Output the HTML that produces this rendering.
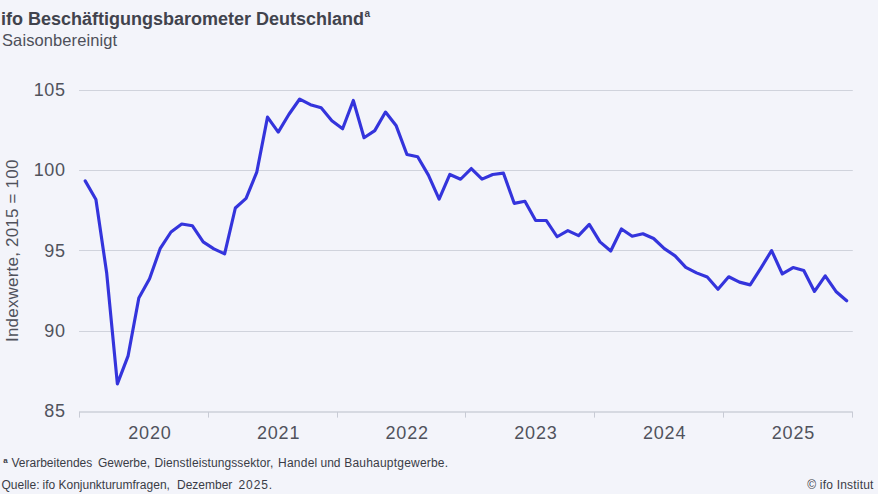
<!DOCTYPE html>
<html><head><meta charset="utf-8">
<style>
html,body{margin:0;padding:0;}
body{width:878px;height:494px;background:#f3f4fa;position:relative;overflow:hidden;font-family:"Liberation Sans",sans-serif;color:#50525c;}
.abs{position:absolute;white-space:pre;}
.title{position:absolute;left:1px;top:9px;font-size:18px;font-weight:bold;letter-spacing:0px;color:#41434d;line-height:20px;white-space:pre;}
.title sup{font-size:10px;font-weight:bold;letter-spacing:0;vertical-align:0;position:relative;top:-8px;left:0.5px}
.sub{position:absolute;left:2px;top:29.5px;font-size:16.5px;letter-spacing:0.1px;line-height:20px;color:#4d4f59;white-space:pre;}
.yl{position:absolute;left:0;width:65.5px;text-align:right;font-size:18px;line-height:22px;letter-spacing:0.6px;}
.xl{position:absolute;width:80px;text-align:center;top:422px;font-size:18px;line-height:22px;letter-spacing:0.8px;}
.ytitle{position:absolute;left:2.7px;top:342px;transform-origin:0 0;transform:rotate(-90deg);font-size:17px;letter-spacing:0.2px;line-height:20px;white-space:pre;}
.fn{position:absolute;font-size:12px;line-height:14px;color:#3a3c46;white-space:pre;}
svg{position:absolute;left:0;top:0;}
</style></head><body>
<div class="title">ifo Beschäftigungsbarometer Deutschland<sup>a</sup></div>
<div class="sub">Saisonbereinigt</div>
<svg width="878" height="494" viewBox="0 0 878 494">
<line x1="79.0" x2="852.8" y1="90.5" y2="90.5" stroke="#d0d3dc" stroke-width="1"/>
<line x1="79.0" x2="852.8" y1="170.5" y2="170.5" stroke="#d0d3dc" stroke-width="1"/>
<line x1="79.0" x2="852.8" y1="250.5" y2="250.5" stroke="#d0d3dc" stroke-width="1"/>
<line x1="79.0" x2="852.8" y1="331.5" y2="331.5" stroke="#d0d3dc" stroke-width="1"/>
<line x1="79.0" x2="852.8" y1="412.00" y2="412.00" stroke="#d6d9e1" stroke-width="2"/>
<line x1="79.50" x2="79.50" y1="412.00" y2="417.60" stroke="#c8cbd5" stroke-width="1"/>
<line x1="208.50" x2="208.50" y1="412.00" y2="417.60" stroke="#c8cbd5" stroke-width="1"/>
<line x1="337.50" x2="337.50" y1="412.00" y2="417.60" stroke="#c8cbd5" stroke-width="1"/>
<line x1="465.50" x2="465.50" y1="412.00" y2="417.60" stroke="#c8cbd5" stroke-width="1"/>
<line x1="594.50" x2="594.50" y1="412.00" y2="417.60" stroke="#c8cbd5" stroke-width="1"/>
<line x1="723.50" x2="723.50" y1="412.00" y2="417.60" stroke="#c8cbd5" stroke-width="1"/>
<line x1="852.50" x2="852.50" y1="412.00" y2="417.60" stroke="#c8cbd5" stroke-width="1"/>

<polyline points="85.20,180.88 95.92,199.50 106.65,272.69 117.38,383.91 128.10,355.82 138.82,298.05 149.55,278.79 160.28,248.29 171.00,232.00 181.72,223.97 192.45,225.82 203.18,241.87 213.90,248.93 224.62,253.83 235.35,208.00 246.07,198.37 256.80,172.05 267.52,117.16 278.25,132.09 288.98,114.27 299.70,99.03 310.43,104.64 321.15,107.85 331.88,120.69 342.60,128.72 353.32,100.47 364.05,137.71 374.77,130.64 385.50,112.03 396.22,125.83 406.95,154.56 417.67,156.80 428.40,175.10 439.12,199.02 449.85,174.46 460.57,179.25 471.30,168.52 482.02,179.11 492.75,174.46 503.47,173.18 514.20,203.33 524.92,201.26 535.65,220.50 546.38,220.52 557.10,236.75 567.83,230.64 578.55,235.63 589.27,224.35 600.00,241.87 610.73,251.02 621.45,228.95 632.18,236.25 642.90,233.77 653.62,238.52 664.35,248.65 675.08,255.83 685.80,267.39 696.52,272.85 707.25,277.02 717.98,289.22 728.70,276.74 739.43,282.11 750.15,284.88 760.88,268.03 771.60,250.54 782.33,273.97 793.05,267.55 803.77,270.44 814.50,291.46 825.23,275.90 835.95,291.46 846.68,300.77" fill="none" stroke="#3434dc" stroke-width="3.15" stroke-linejoin="round" stroke-linecap="round"/>
</svg>
<div class="yl" style="top:79.0px">105</div>
<div class="yl" style="top:159.2px">100</div>
<div class="yl" style="top:239.5px">95</div>
<div class="yl" style="top:319.8px">90</div>
<div class="yl" style="top:400.0px">85</div>

<div class="xl" style="left:109.9px">2020</div>
<div class="xl" style="left:238.6px">2021</div>
<div class="xl" style="left:367.2px">2022</div>
<div class="xl" style="left:495.9px">2023</div>
<div class="xl" style="left:624.6px">2024</div>
<div class="xl" style="left:753.4px">2025</div>

<div class="ytitle">Indexwerte, 2015 = 100</div>
<div class="fn" style="left:3.3px;top:453.5px;font-size:8px;font-weight:bold;line-height:14px">a</div>
<div class="fn" style="left:11.5px;top:456px">Verarbeitendes</div>
<div class="fn" style="left:98px;top:456px">Gewerbe,</div>
<div class="fn" style="left:154.5px;top:456px;letter-spacing:0.1px">Dienstleistungssektor,</div>
<div class="fn" style="left:278px;top:456px;letter-spacing:0.25px">Handel</div>
<div class="fn" style="left:320.5px;top:456px">und</div>
<div class="fn" style="left:344.3px;top:456px;letter-spacing:0.2px">Bauhauptgewerbe.</div>
<div class="fn" style="left:1.5px;top:477.5px">Quelle:</div>
<div class="fn" style="left:42.5px;top:477.5px">ifo</div>
<div class="fn" style="left:58.5px;top:477.5px">Konjunkturumfragen,</div>
<div class="fn" style="left:177px;top:477.5px">Dezember</div>
<div class="fn" style="left:238.5px;top:477.5px;letter-spacing:0.9px">2025.</div>
<div class="fn" style="left:807.3px;top:477.5px;letter-spacing:0.2px">© ifo Institut</div>
</body></html>
